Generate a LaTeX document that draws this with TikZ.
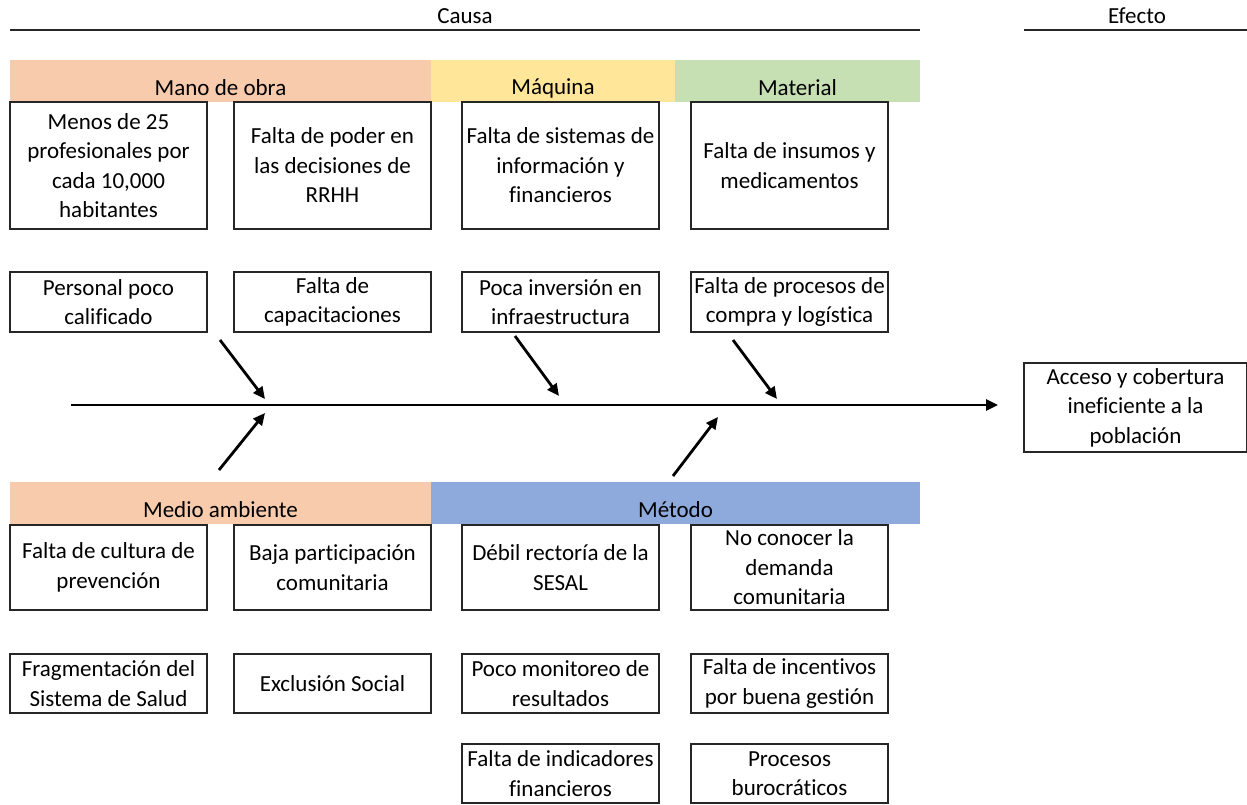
\documentclass[tikz,border=0pt]{standalone}
\usepackage{fontspec}
\setmainfont{Carlito}[Ligatures=NoCommon]
\usetikzlibrary{arrows.meta}
\definecolor{cMO}{HTML}{F8CBAD}
\definecolor{cMAQ}{HTML}{FFE699}
\definecolor{cMAT}{HTML}{C6E0B4}
\definecolor{cMET}{HTML}{8EA9DB}
\tikzset{
  cbox/.style={draw=black!85, line width=1.3pt, rectangle, inner sep=0pt, align=center, minimum width=197pt, font=\fontsize{23}{29.5}\selectfont},
  band/.style={rectangle, draw=none, inner sep=0pt, minimum height=42pt},
  lbl/.style={inner sep=0pt, font=\fontsize{23}{29.5}\selectfont},
  rule/.style={line width=1.3pt, black!85},
  bone/.style={line width=2.8pt, -{Triangle[length=12pt,width=11pt]}},
}
\begin{document}
\begin{tikzpicture}[x=1pt,y=-1pt]
\useasboundingbox[fill=white] (0,0) rectangle (1247,805);
% headers
\node[lbl] (causa) at (465,16) {Causa};
\node[lbl] (efecto) at (1137,16) {Efecto};
\coordinate (cl1) at (10,30); \coordinate (cl2) at (920,30);
\coordinate (el1) at (1024,30); \coordinate (el2) at (1247,30);
\draw[rule] (cl1) -- (cl2);
\draw[rule] (el1) -- (el2);
% top bands
\node[band, fill=cMO, minimum width=421pt] (bMO) at (220.5,81) {};
\node[band, fill=cMAQ, minimum width=244pt] (bMAQ) at (553,81) {};
\node[band, fill=cMAT, minimum width=245pt] (bMAT) at (797.5,81) {};
\node[lbl] (tMO) at (220.5,88) {Mano de obra};
\node[lbl] (tMAQ) at (553,88) {Máquina};
\node[lbl] (tMAT) at (797.5,88) {Material};
% bottom bands
\node[band, fill=cMO, minimum width=421pt] (bMA) at (220.5,503) {};
\node[band, fill=cMET, minimum width=489pt] (bMET) at (675.5,503) {};
\node[lbl] (tMA) at (220.5,510) {Medio ambiente};
\node[lbl] (tMET) at (675.5,510) {Método};
% row 1
\node[cbox, minimum height=127pt] (a1) at (108.5,165.5) {Menos de 25\\profesionales por\\cada 10,000\\habitantes};
\node[cbox, minimum height=127pt] (a2) at (332.5,165.5) {Falta de poder en\\las decisiones de\\RRHH};
\node[cbox, minimum height=127pt] (a3) at (560.5,165.5) {Falta de sistemas de\\información y\\financieros};
\node[cbox, minimum height=127pt] (a4) at (789.5,165.5) {Falta de insumos y\\medicamentos};
% row 2
\node[cbox, minimum height=60pt] (b1) at (108.5,302) {Personal poco\\calificado};
\node[cbox, minimum height=60pt] (b2) at (332.5,302) {Falta de\\capacitaciones};
\node[cbox, minimum height=60pt] (b3) at (560.5,302) {Poca inversión en\\infraestructura};
\node[cbox, minimum height=60pt] (b4) at (789.5,302) {Falta de procesos de\\compra y logística};
% row A
\node[cbox, minimum height=85pt] (c1) at (108.5,567.5) {Falta de cultura de\\prevención};
\node[cbox, minimum height=85pt] (c2) at (332.5,567.5) {Baja participación\\comunitaria};
\node[cbox, minimum height=85pt] (c3) at (560.5,567.5) {Débil rectoría de la\\SESAL};
\node[cbox, minimum height=85pt] (c4) at (789.5,567.5) {No conocer la\\demanda\\comunitaria};
% row B
\node[cbox, minimum height=59pt] (d1) at (108.5,683.5) {Fragmentación del\\Sistema de Salud};
\node[cbox, minimum height=59pt] (d2) at (332.5,683.5) {Exclusión Social};
\node[cbox, minimum height=59pt] (d3) at (560.5,683.5) {Poco monitoreo de\\resultados};
\node[cbox, minimum height=59pt] (d4) at (789.5,683.5) {Falta de incentivos\\por buena gestión};
% row C
\node[cbox, minimum height=59pt] (e3) at (560.5,773.5) {Falta de indicadores\\financieros};
\node[cbox, minimum height=59pt] (e4) at (789.5,773.5) {Procesos\\burocráticos};
% effect
\node[cbox, minimum width=223pt, minimum height=89pt] (eff) at (1135.5,407.5) {Acceso y cobertura\\ineficiente a la\\población};
% spine
\coordinate (s0) at (71,405);
\coordinate (s1) at (998,405);
\draw[bone] (s0) -- (s1);
% bones
\coordinate (p1) at (220,340); \coordinate (q1) at (265,399);
\coordinate (p2) at (515,336); \coordinate (q2) at (559,396);
\coordinate (p3) at (733,340); \coordinate (q3) at (777,399);
\coordinate (p4) at (219,470); \coordinate (q4) at (265,413);
\coordinate (p5) at (673,476); \coordinate (q5) at (718,417);
\draw[bone] (p1) -- (q1);
\draw[bone] (p2) -- (q2);
\draw[bone] (p3) -- (q3);
\draw[bone] (p4) -- (q4);
\draw[bone] (p5) -- (q5);
\end{tikzpicture}
\end{document}
